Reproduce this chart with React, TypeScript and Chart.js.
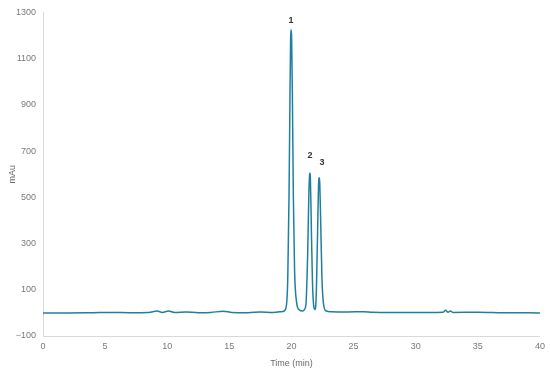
import React, { useEffect, useRef } from "react";
import { Chart, registerables } from "chart.js";

Chart.register(...registerables);

const times = [0, 2, 4, 5.5, 7, 8.5, 9.2, 9.6, 10.1, 10.6, 11.5, 12.5, 13.5, 14.5, 15.2, 16.5, 17.5, 18.5, 19.3, 19.55, 19.7, 19.8, 19.88, 19.93, 19.97, 20.01, 20.07, 20.15, 20.25, 20.4, 20.6, 20.9, 21.15, 21.3, 21.4, 21.45, 21.48, 21.52, 21.58, 21.68, 21.8, 21.88, 21.98, 22.1, 22.17, 22.2, 22.23, 22.27, 22.34, 22.45, 22.6, 22.8, 23.2, 24.5, 25.8, 26.5, 28, 29.5, 31, 32.2, 32.4, 32.6, 32.8, 33, 35, 37, 40];
const signal = [0, 0, 1, 2, 1, 2, 8, 2, 8, 2, 4, 1, 2, 7, 2, 1, 4, 2, 6, 20, 150, 500, 950, 1185, 1225, 1190, 950, 500, 180, 50, 15, 8, 30, 250, 520, 590, 605, 585, 420, 150, 25, 15, 60, 350, 540, 578, 585, 565, 420, 150, 30, 8, 5, 4, 5, 3, 2, 2, 2, 3, 11, 3, 8, 2, 3, 1, 0];

const peakLabels = ["1", "2", "3"];
const peakLabelX = [19.96, 21.48, 22.45];
const peakLabelY = [1266, 679, 649];

const xTicks = [0, 5, 10, 15, 20, 25, 30, 35, 40];
const yTicks = [-100, 100, 300, 500, 700, 900, 1100, 1300];

const FONT = "'Liberation Sans', Arial, sans-serif";

export default function App() {
  const ref = useRef<HTMLCanvasElement | null>(null);
  useEffect(() => {
    if (!ref.current) return;
    const labelPlugin = {
      id: "peakLabels",
      afterDatasetsDraw(chart: any) {
        const { ctx, scales } = chart;
        ctx.save();
        ctx.fillStyle = "#333333";
        ctx.font = `bold 9px ${FONT}`;
        ctx.textAlign = "center";
        ctx.textBaseline = "middle";
        peakLabels.forEach((t, i) => {
          ctx.fillText(t, scales.x.getPixelForValue(peakLabelX[i]), scales.y.getPixelForValue(peakLabelY[i]));
        });
        ctx.restore();
      },
    };
    const chart = new Chart(ref.current, {
      type: "line",
      data: {
        datasets: [
          {
            data: times.map((t, i) => ({ x: t, y: signal[i] })),
            borderColor: "#1f7f9f",
            borderWidth: 1.5,
            pointRadius: 0,
            fill: false,
            cubicInterpolationMode: "monotone",
          },
        ],
      },
      options: {
        animation: false,
        responsive: false,
        maintainAspectRatio: false,
        layout: { padding: { left: 0, right: 9, top: 7, bottom: 0 } },
        plugins: { legend: { display: false }, tooltip: { enabled: false } },
        scales: {
          x: {
            type: "linear",
            min: 0,
            max: 40,
            afterBuildTicks: (s: any) => {
              s.ticks = xTicks.map((v) => ({ value: v }));
            },
            afterFit: (s: any) => {
              s.height = 33;
            },
            grid: { display: false, drawTicks: false },
            border: { display: true, color: "#d9d9d9", width: 1 },
            ticks: { color: "#7a7a7a", font: { family: FONT, size: 9 }, padding: 5, maxRotation: 0 },
            title: { display: true, text: "Time (min)", color: "#6a6a6a", font: { family: FONT, size: 9 }, padding: { top: 2, bottom: 0 } },
          },
          y: {
            type: "linear",
            min: -100,
            max: 1300,
            afterBuildTicks: (s: any) => {
              s.ticks = yTicks.map((v) => ({ value: v }));
            },
            afterFit: (s: any) => {
              s.width = 43;
            },
            grid: { display: false, drawTicks: false },
            border: { display: true, color: "#d9d9d9", width: 1 },
            ticks: {
              color: "#7a7a7a",
              font: { family: FONT, size: 9 },
              padding: 7,
              callback: (v: any) => String(v).replace("-", "\u2212"),
            },
            title: { display: true, text: "mAu", color: "#6a6a6a", font: { family: FONT, size: 9 }, padding: { top: 7, bottom: 2 } },
          },
        },
      },
      plugins: [labelPlugin],
    } as any);
    return () => chart.destroy();
  }, []);
  return (
    <div style={{ position: "fixed", left: 0, top: 0, width: 550, height: 369, background: "#fff" }}>
      <canvas ref={ref} width={550} height={369} />
    </div>
  );
}
